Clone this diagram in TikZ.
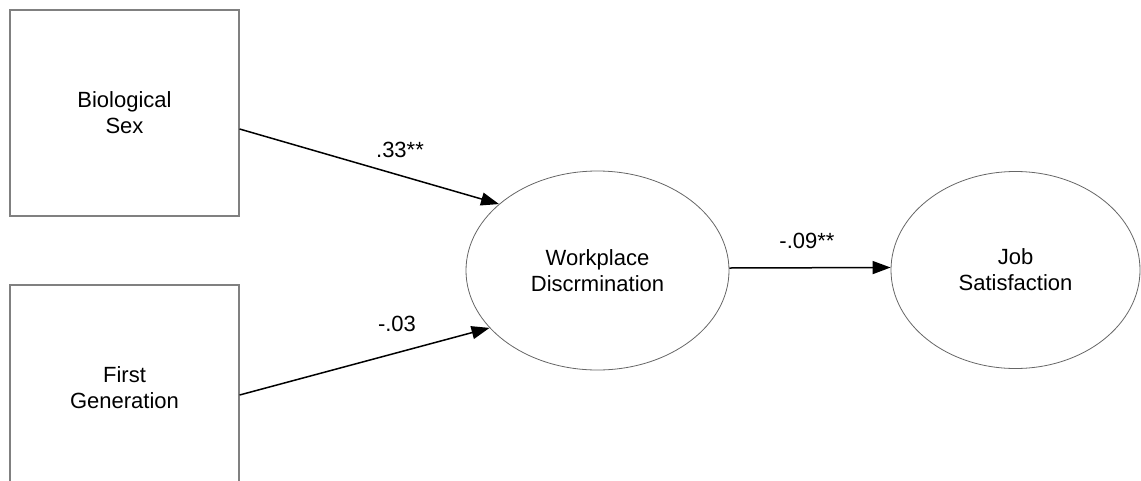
\documentclass[tikz,border=0pt]{standalone}
\usepackage{fontspec}
\setmainfont{Liberation Sans}
\usetikzlibrary{arrows.meta,shapes.geometric}
\begin{document}
\begin{tikzpicture}[x=1pt,y=-1pt,
  every node/.style={font=\fontsize{22}{26}\selectfont, text=black},
  obsbox/.style={draw=black!50, line width=1.2pt, rectangle, minimum width=229pt, minimum height=206pt, inner sep=0pt, align=center},
  latent/.style={draw=black!60, line width=0.8pt, ellipse, inner sep=0pt, align=center},
  path/.style={draw=black, line width=1.5pt, -{Triangle[length=18pt,width=13pt]}},
  coef/.style={inner sep=0pt}]
\useasboundingbox (0,0) rectangle (1141,480);
\node[obsbox] (bs) at (124.5,113) {Biological\\Sex};
\node[obsbox] (fg) at (124.5,388) {First\\Generation};
\node[latent, minimum width=263pt, minimum height=199pt] (wd) at (597.5,270.5) {Workplace\\Discrmination};
\node[latent, minimum width=249pt, minimum height=197pt] (js) at (1015.5,270) {Job\\Satisfaction};
\draw[path] ([yshift=-16pt]bs.east) -- (wd.146.5);
\draw[path] ([yshift=-7pt]fg.east) -- (wd.208.9);
\draw[path] ([yshift=2.5pt]wd.east) -- ([yshift=2.5pt]js.west);
\node[coef] (c1) at (400,150) {.33**};
\node[coef] (c2) at (397,324) {-.03};
\node[coef] (c3) at (807,241) {-.09**};
\end{tikzpicture}
\end{document}
